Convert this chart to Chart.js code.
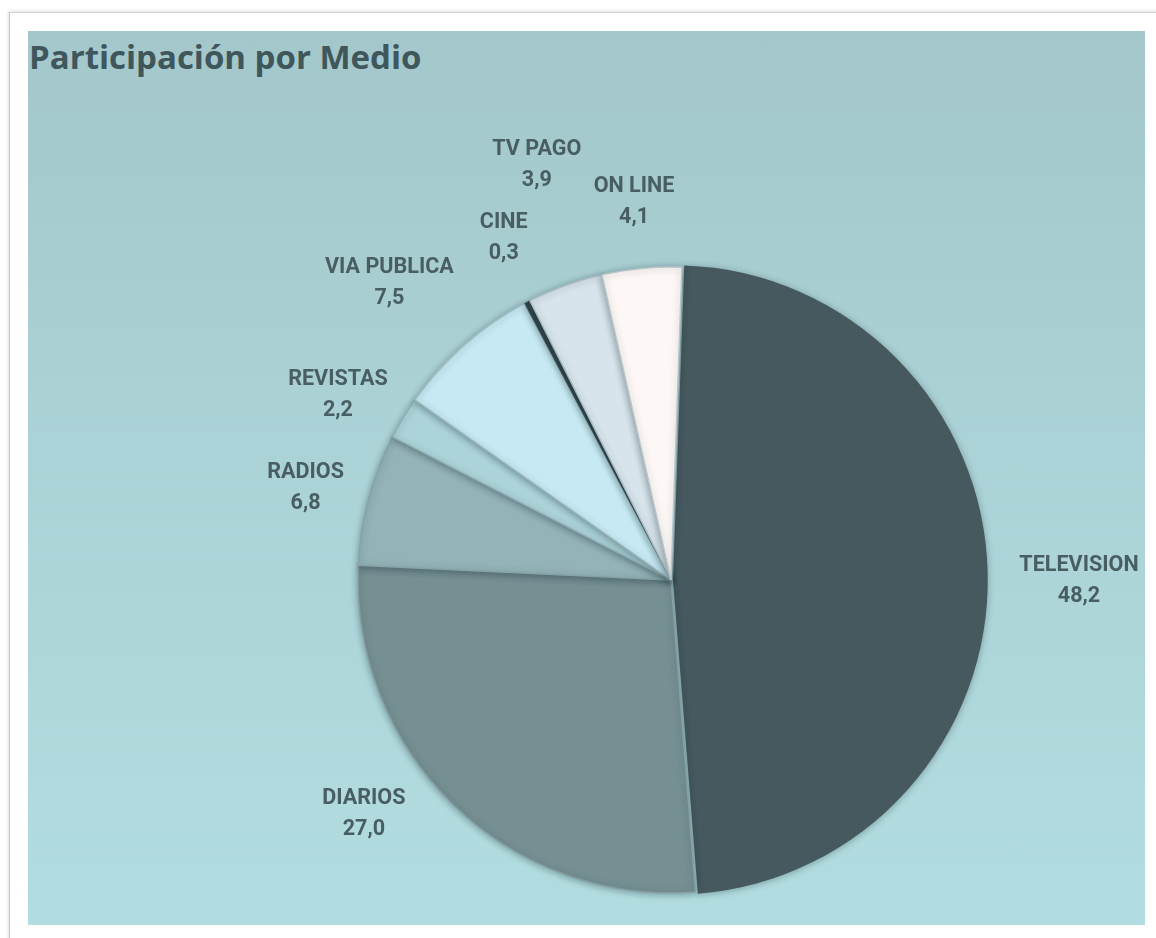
<!DOCTYPE html>
<html>
<head>
<meta charset="utf-8">
<script src="https://cdn.jsdelivr.net/npm/chart.js@4.4.1/dist/chart.umd.min.js"></script>
<style>
  html, body { margin:0; padding:0; background:#ffffff; }
  body { width:1156px; height:938px; position:relative; overflow:hidden; font-family:"Open Sans", sans-serif; }
  #card { position:absolute; left:9px; top:12px; width:1160px; height:940px; border-left:1px solid #c9c9c9; border-top:1px solid #d6d6d6; box-shadow:-1px -1px 3px rgba(0,0,0,0.12); background:#fff; }
  #panel { position:absolute; left:28px; top:31px; width:1117px; height:894px; background:linear-gradient(180deg,#a3c7cb 0%,#abd2d6 45%,#b2dde0 100%); }
  #title { position:absolute; left:29px; top:34px; font-family:"Open Sans", sans-serif; font-weight:700; font-size:33px; color:#3f565b; white-space:nowrap; }
  #wrap { position:absolute; left:0; top:0; width:1156px; height:938px; }
</style>
</head>
<body>
<div id="card"></div>
<div id="panel"></div>
<div id="title">Participación por Medio</div>
<div id="wrap"><canvas id="c" width="1156" height="938"></canvas></div>
<script>
const categories = ["TELEVISION", "DIARIOS", "RADIOS", "REVISTAS", "VIA PUBLICA", "CINE", "TV PAGO", "ON LINE"];
const valueLabels = ["48,2", "27,0", "6,8", "2,2", "7,5", "0,3", "3,9", "4,1"];
const shares = [48.2, 27.0, 6.8, 2.2, 7.5, 0.3, 3.9, 4.1];

const sliceColors = ["#46595e", "#758f93", "#93b3b8", "#acd3d9", "#c7e9f3", "#33464a", "#d8e4eb", "#fdf8f6"];
// label placement: extra radial distance beyond the pie edge (px) and angle shift (deg)
const labelLayout = [
  {extra: 95, shift: 1.3}, {extra: 73, shift: 8.6}, {extra: 64, shift: -0.7}, {extra: 68, shift: -2.1},
  {extra: 97, shift: -2.0}, {extra: 68, shift: 1.3}, {extra: 124, shift: 1.9}, {extra: 67, shift: -0.2}
];

const shadowPlugin = {
  id: 'shadow',
  beforeDatasetDraw(chart) {
    const ctx = chart.ctx;
    ctx.save();
    ctx.shadowColor = 'rgba(20,40,45,0.35)';
    ctx.shadowBlur = 7;
    ctx.shadowOffsetX = 0;
    ctx.shadowOffsetY = 1;
  },
  afterDatasetDraw(chart) {
    chart.ctx.restore();
  }
};

const labelPlugin = {
  id: 'outLabels',
  afterDatasetsDraw(chart) {
    const ctx = chart.ctx;
    const meta = chart.getDatasetMeta(0);
    const sx = 0.98;
    meta.data.forEach((arc, i) => {
      const p = arc.getProps(['x', 'y', 'startAngle', 'endAngle', 'outerRadius'], true);
      const lay = labelLayout[i];
      const a = (p.startAngle + p.endAngle) / 2 + lay.shift * Math.PI / 180;
      const r = p.outerRadius + lay.extra;
      const cx = p.x + Math.cos(a) * r;
      const cy = p.y + Math.sin(a) * r;
      ctx.save();
      ctx.fillStyle = '#485e63';
      ctx.textAlign = 'center';
      ctx.textBaseline = 'middle';
      ctx.font = 'bold 22px Roboto, "DejaVu Sans", sans-serif';
      ctx.translate(cx, cy);
      ctx.scale(sx, 1);
      ctx.fillText(categories[i], 0, -15);
      ctx.fillText(valueLabels[i], 0, 16);
      ctx.restore();
    });
  }
};

new Chart(document.getElementById('c'), {
  type: 'pie',
  data: {
    labels: categories,
    datasets: [{
      data: shares,
      backgroundColor: sliceColors,
      borderColor: ["rgba(0,0,0,0)", "#86a0a4", "#86a3a8", "#8fb0b5", "#9dbcc3", "#33464a", "#a9bcc4", "#b9c6c8"],
      borderWidth: [0, 1.5, 1.5, 1.5, 1.5, 0.5, 1.5, 1.5],
      offset: [8, 0, 0, 0, 0, 0, 0, 0],
      radius: 313
    }]
  },
  options: {
    responsive: false,
    animation: false,
    rotation: 2,
    layout: { padding: { left: 186, right: 0, top: 222, bottom: 0 } },
    plugins: {
      legend: { display: false },
      tooltip: { enabled: false },
      title: { display: false }
    }
  },
  plugins: [shadowPlugin, labelPlugin]
});
</script>
</body>
</html>
